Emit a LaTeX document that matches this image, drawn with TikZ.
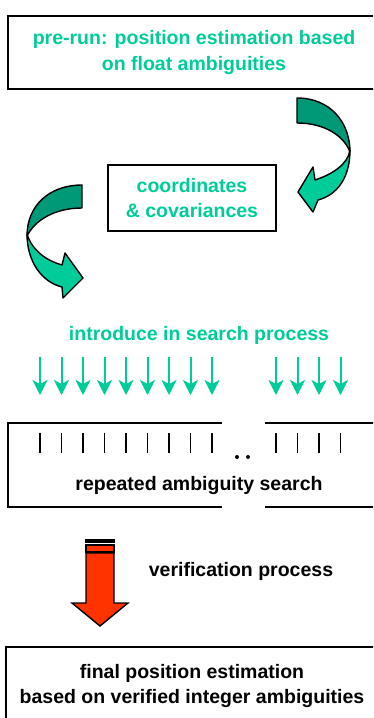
\documentclass[tikz,border=0pt]{standalone}
\usepackage{fontspec}
\setmainfont{Liberation Sans}
\usetikzlibrary{arrows.meta}
\definecolor{aqua}{RGB}{0,204,153}
\definecolor{aquadark}{RGB}{0,153,119}
\definecolor{redorange}{RGB}{255,51,0}

\tikzset{
	box/.style={shape=rectangle,draw=black,line width=2pt,inner sep=0pt},
	boxtext/.style={align=center,font=\bfseries\fontsize{19.5}{25.5}\selectfont},
	ribbon/.style={draw=black,line width=1.4pt,line join=round},
	down/.style={draw=aqua,line width=2pt,-{Stealth[length=15pt,width=15pt,inset=4pt]}},
	tick/.style={draw=black,line width=1.6pt}
}

\begin{document}
\begin{tikzpicture}[x=1pt,y=-1pt]
	\clip (0,0) rectangle (373,718);

	\node[box,boxtext,text=aqua,minimum width=372pt,minimum height=73pt] (prerun) at (194, 52.5) {pre-run: position estimation based\\on float ambiguities};
	\node[box,boxtext,text=aqua,minimum width=168pt,minimum height=66pt] (coords) at (192, 198) {coordinates\\\& covariances};
	\node[boxtext,text=aqua] (introduce) at (199, 335) {introduce in search process};
	\node[box,minimum width=372pt,minimum height=84pt] (search) at (194, 465) {};
	\node[boxtext] (searchtext) at (199, 485) {repeated ambiguity search};
	\node[boxtext] (verify) at (241, 571) {verification process};
	\node[box,boxtext,minimum width=372pt,minimum height=78pt] (final) at (192, 686) {final position estimation\\based on verified integer ambiguities};

	\fill[white] (222, 419) rectangle (265, 427);
	\fill[white] (222, 503) rectangle (265, 511);

	\draw[ribbon,fill=aquadark] (297,98) .. controls (330,98) and (350,122) .. (350,152) .. controls (344,136) and (325,123) .. (297,123) -- cycle;
	\draw[ribbon,fill=aqua] (350,150) .. controls (350,178) and (337,195) .. (318,200) -- (313,212) -- (298,192) -- (313,167) -- (315,180) .. controls (333,174) and (348,164) .. (350,150) -- cycle;

	\draw[ribbon,fill=aquadark] (82,185) .. controls (50,185) and (27,205) .. (27,236) .. controls (35,220) and (55,208) .. (82,208) -- cycle;
	\draw[ribbon,fill=aqua] (27,234) .. controls (27,262) and (42,282) .. (62,287) -- (63,298) -- (83,278) -- (65,253) -- (62,265) .. controls (45,260) and (32,250) .. (27,234) -- cycle;

	\foreach \x in {40,61.5,83,104.5,126,147.5,169,190.5,212,276,297.5,319,340.5} {
		\draw[down] (\x, 357) -- (\x, 395);
		\draw[tick] (\x, 433) -- (\x, 453);
	}
	\fill[black] (237, 457) circle (2);
	\fill[black] (248, 457) circle (2);

	\fill[black] (85, 538.5) rectangle (115, 543);
	\draw[fill=redorange,line width=1.4pt] (86, 545) rectangle (114, 552);
	\draw[fill=redorange,line width=1.4pt,line join=miter] (86,553) -- (86,603) -- (72,603) -- (100,626) -- (128,603) -- (114,603) -- (114,553) -- cycle;

\end{tikzpicture}
\end{document}
